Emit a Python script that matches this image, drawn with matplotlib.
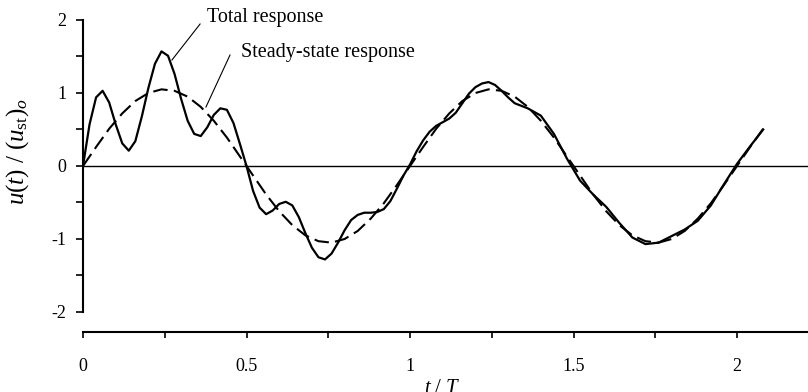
import matplotlib
matplotlib.use('Agg')
import matplotlib.pyplot as plt
from matplotlib.ticker import MultipleLocator, FixedLocator

plt.rcParams['font.family'] = ['Liberation Serif', 'DejaVu Serif']
plt.rcParams['mathtext.fontset'] = 'custom'
plt.rcParams['mathtext.rm'] = 'Liberation Serif'
plt.rcParams['mathtext.it'] = 'Liberation Serif:italic'

# total response u(t)/(ust)o
t_total = [0.00, 0.02, 0.04, 0.06, 0.08, 0.10, 0.12, 0.14, 0.16, 0.18,
           0.20, 0.22, 0.24, 0.26, 0.28, 0.30, 0.32, 0.34, 0.36, 0.38,
           0.40, 0.42, 0.44, 0.46, 0.48, 0.50, 0.52, 0.54, 0.56, 0.58,
           0.60, 0.62, 0.64, 0.66, 0.68, 0.70, 0.72, 0.74, 0.76, 0.78,
           0.80, 0.82, 0.84, 0.86, 0.88, 0.90, 0.92, 0.94, 0.96, 0.98,
           1.00, 1.02, 1.04, 1.06, 1.08, 1.10, 1.12, 1.14, 1.16, 1.18,
           1.20, 1.22, 1.24, 1.26, 1.28, 1.30, 1.32, 1.36, 1.40, 1.44,
           1.48, 1.52, 1.56, 1.60, 1.64, 1.68, 1.72, 1.76, 1.80, 1.84,
           1.88, 1.92, 1.96, 2.00, 2.04, 2.08]
u_total = [0.00, 0.57, 0.94, 1.03, 0.87, 0.57, 0.31, 0.21, 0.34, 0.68,
           1.07, 1.40, 1.57, 1.51, 1.26, 0.92, 0.62, 0.44, 0.41, 0.53,
           0.70, 0.79, 0.77, 0.59, 0.30, 0.00, -0.34, -0.57, -0.66, -0.61,
           -0.52, -0.49, -0.54, -0.70, -0.92, -1.12, -1.25, -1.28, -1.20, -1.05,
           -0.88, -0.74, -0.67, -0.64, -0.64, -0.63, -0.59, -0.48, -0.31, -0.13,
           0.02, 0.20, 0.35, 0.47, 0.55, 0.60, 0.65, 0.73, 0.86, 0.99,
           1.08, 1.13, 1.15, 1.11, 1.03, 0.94, 0.86, 0.79, 0.69, 0.44,
           0.10, -0.20, -0.39, -0.56, -0.78, -0.98, -1.07, -1.05, -0.96, -0.87,
           -0.75, -0.54, -0.25, 0.03, 0.27, 0.50]

# steady-state response
t_steady = [0.00, 0.04, 0.08, 0.12, 0.16, 0.20, 0.24, 0.28, 0.32, 0.36,
            0.40, 0.44, 0.48, 0.52, 0.56, 0.60, 0.64, 0.68, 0.72, 0.76,
            0.80, 0.84, 0.88, 0.92, 0.96, 1.00, 1.04, 1.08, 1.12, 1.16,
            1.20, 1.24, 1.28, 1.32, 1.36, 1.40, 1.44, 1.48, 1.52, 1.56,
            1.60, 1.64, 1.68, 1.72, 1.76, 1.80, 1.84, 1.88, 1.92, 1.96,
            2.00, 2.04, 2.08]
u_steady = [0.00, 0.26, 0.51, 0.72, 0.89, 1.00, 1.05, 1.03, 0.95, 0.81,
            0.62, 0.39, 0.13, -0.13, -0.39, -0.62, -0.81, -0.95, -1.03, -1.05,
            -1.00, -0.89, -0.72, -0.51, -0.26, 0.00, 0.26, 0.51, 0.72, 0.89,
            1.00, 1.05, 1.03, 0.95, 0.81, 0.62, 0.39, 0.13, -0.13, -0.39,
            -0.62, -0.81, -0.95, -1.03, -1.05, -1.00, -0.89, -0.72, -0.51, -0.26,
            0.00, 0.26, 0.51]

x_major = [0, 0.5, 1, 1.5, 2]
x_labels = ['0', '0.5', '1', '1.5', '2']
y_major = [-2, -1, 0, 1, 2]
y_labels = ['-2', '-1', '0', '1', '2']

fig = plt.figure(figsize=(8.08, 3.92), dpi=100)
ax = fig.add_axes([83 / 808, 60 / 392, 725 / 808, 312 / 392])

ax.plot(t_total, u_total, color='black', lw=1.6, solid_joinstyle='round')
ax.plot(t_steady, u_steady, color='black', lw=1.5, dashes=(7, 3))
ax.axhline(0, color='black', lw=1.0)

ax.set_xlim(0, 2.217)
ax.set_ylim(-2.274, 2.0)

for s in ['top', 'right']:
    ax.spines[s].set_visible(False)
ax.spines['left'].set_bounds(-2, 2)
ax.spines['left'].set_linewidth(1.5)
ax.spines['bottom'].set_linewidth(1.5)

ax.xaxis.set_major_locator(FixedLocator(x_major))
ax.set_xticklabels(x_labels)
ax.xaxis.set_minor_locator(MultipleLocator(0.25))
ax.yaxis.set_major_locator(FixedLocator(y_major))
ax.set_yticklabels(y_labels)
ax.yaxis.set_minor_locator(FixedLocator([-1.5, -0.5, 0.5, 1.5]))
ax.tick_params(axis='x', which='both', direction='out', length=4, width=1.2,
               labelsize=13, pad=15)
ax.tick_params(axis='y', which='both', direction='out', length=5, width=1.2,
               labelsize=13, pad=7)

ax.text(0.379, 2.04, 'Total response', fontsize=14.5, va='center', ha='left')
ax.text(0.483, 1.56, 'Steady-state response', fontsize=14.5, va='center', ha='left')
ax.plot([0.358, 0.272], [1.945, 1.452], color='black', lw=0.8)
ax.plot([0.4495, 0.376], [1.52, 0.808], color='black', lw=0.8)
for ln in ax.lines[-2:]:
    ln.set_clip_on(False)

fig.text(18 / 808, 1 - 152 / 392, r'$u(t)\ /\ (u_{\mathrm{st}})_o$', rotation=90,
         fontsize=18, ha='center', va='center')
fig.text(442 / 808, 13 / 392, r'$t\ /\ T$', fontsize=15, ha='center', va='top')

fig.savefig('out.png', dpi=100)
